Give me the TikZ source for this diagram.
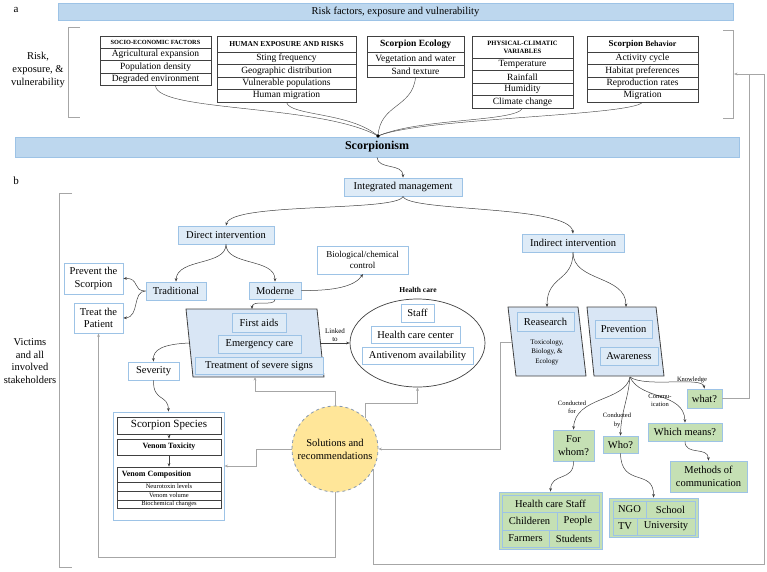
\documentclass[tikz,border=0pt]{standalone}
\usepackage{fontspec}
\setmainfont{Liberation Serif}
\usetikzlibrary{arrows.meta,shapes.geometric}
\definecolor{barblue}{HTML}{BDD7EE}
\definecolor{lblue}{HTML}{DEEBF7}
\definecolor{bblue}{HTML}{9DC3E6}
\definecolor{pblue}{HTML}{D9E6F5}
\definecolor{lgreen}{HTML}{C5E0B4}
\definecolor{yel}{HTML}{FFE699}
\definecolor{dashc}{HTML}{8497B0}
\definecolor{loopc}{HTML}{A6A6A6}
\definecolor{tabc}{HTML}{404040}
\newcommand\fz[2]{\fontsize{#1}{#2}\selectfont}
\begin{document}
\begin{tikzpicture}[x=1pt,y=-1pt,
  bx/.style={draw=bblue, line width=0.8pt, inner sep=0pt, align=center, font=\fz{10.5}{12.5}},
  lb/.style={bx, fill=lblue},
  gb/.style={bx, fill=lgreen},
  wb/.style={bx, fill=white},
  cell/.style={draw=tabc, fill=white, line width=0.7pt, inner sep=0pt, align=center, font=\fz{9.5}{11}, minimum width=#1},
  hd/.style={font=\bfseries\fz{#1}{#1*1.2}},
  arr/.style={-{Stealth[length=3.5pt,width=2.8pt]}, draw=black!75, line width=0.5pt},
  gl/.style={draw=loopc, line width=0.9pt},
  gla/.style={gl, -{Stealth[length=3.5pt,width=2.8pt]}},
  sl/.style={font=\fz{7}{8.5}, align=center, inner sep=0pt},
]
\useasboundingbox (0,0) rectangle (767,571);
\fill[white] (0,0) rectangle (767,571);

% labels
\node[font=\fz{11}{13}] (la) at (16,10) {a};
\node[font=\fz{11}{13}] (lbb) at (16,181) {b};
\node[align=center, font=\fz{10.5}{12.6}] (rev) at (38,70) {Risk,\\exposure, \&\\vulnerability};
\node[align=center, font=\fz{10.5}{12.7}] (vic) at (30,361) {Victims\\and all\\involved\\stakeholders};

% brackets
\draw[gl, line width=0.8pt] (80,27) -- (68,27) -- (68,117) -- (80,117);
\draw[gl, line width=0.8pt] (723,30) -- (733,30) -- (733,118) -- (723,118);
\draw[gl, line width=0.8pt] (72,193) -- (59,193) -- (59,567) -- (72,567);

% top bar
\node[draw=bblue, fill=barblue, line width=0.8pt, minimum width=675, minimum height=17, inner sep=0pt, font=\fz{10.5}{12}] (rbar) at (395.5,11.5) {Risk factors, exposure and vulnerability};

% Table 1
\node[cell=111, minimum height=12, font=\bfseries\fz{6.3}{7}] (t1h) at (155.5,42) {SOCIO-ECONOMIC FACTORS};
\node[cell=111, minimum height=12.5] (t1a) at (155.5,54.25) {Agricultural expansion};
\node[cell=111, minimum height=12.5] (t1b) at (155.5,66.75) {Population density};
\node[cell=111, minimum height=12.5] (t1c) at (155.5,79.25) {Degraded environment};
% Table 2
\node[cell=139, minimum height=16, font=\bfseries\fz{7.5}{8.5}] (t2h) at (286.5,44) {HUMAN EXPOSURE AND RISKS};
\node[cell=139, minimum height=12.5] (t2a) at (286.5,58.25) {Sting frequency};
\node[cell=139, minimum height=12.5] (t2b) at (286.5,70.75) {Geographic distribution};
\node[cell=139, minimum height=12.5] (t2c) at (286.5,83.25) {Vulnerable populations};
\node[cell=139, minimum height=12.5] (t2d) at (286.5,95.75) {Human migration};
% Table 3
\node[cell=97, minimum height=16.5, font=\bfseries\fz{9.5}{11}] (t3h) at (415.5,44.25) {Scorpion Ecology};
\node[cell=97, minimum height=12.5] (t3a) at (415.5,58.75) {Vegetation and water};
\node[cell=97, minimum height=12.5] (t3b) at (415.5,71.25) {Sand texture};
% Table 4
\node[cell=101, minimum height=22, font=\bfseries\fz{6.6}{8}] (t4h) at (522.5,47) {PHYSICAL-CLIMATIC\\VARIABLES};
\node[cell=101, minimum height=12.5] (t4a) at (522.5,64.25) {Temperature};
\node[cell=101, minimum height=12.5] (t4b) at (522.5,76.75) {Rainfall};
\node[cell=101, minimum height=12.5] (t4c) at (522.5,89.25) {Humidity};
\node[cell=101, minimum height=12.5] (t4d) at (522.5,101.75) {Climate change};
% Table 5
\node[cell=111, minimum height=16, font=\bfseries\fz{9}{10}] (t5h) at (642.5,44) {Scorpion {\fz{8}{10}Behavior}};
\node[cell=111, minimum height=12.5] (t5a) at (642.5,58.25) {Activity cycle};
\node[cell=111, minimum height=12.5] (t5b) at (642.5,70.75) {Habitat preferences};
\node[cell=111, minimum height=12.5] (t5c) at (642.5,83.25) {Reproduction rates};
\node[cell=111, minimum height=12.5] (t5d) at (642.5,95.75) {Migration};

% Scorpionism bar
\node[draw=bblue, fill=barblue, line width=0.8pt, minimum width=724, minimum height=20, inner sep=0pt, font=\bfseries\fz{12}{14}] (scp) at (377,147) {Scorpionism};
\coordinate (dot) at (378,136);

\draw[draw=black!70, line width=0.45pt] (t1c.south) .. controls (158,112) and (320,104) .. (dot);
\draw[draw=black!70, line width=0.45pt] (t2d.south) .. controls (290,116) and (350,112) .. (dot);
\draw[draw=black!70, line width=0.45pt] (t3b.south) .. controls (412,108) and (380,104) .. (dot);
\draw[draw=black!70, line width=0.45pt] (t4d.south) .. controls (515,122) and (420,118) .. (dot);
\draw[draw=black!70, line width=0.45pt] (t5d.south) .. controls (630,116) and (420,118) .. (dot);
\fill (dot) circle (1.8);

% section b
\node[lb, minimum width=118, minimum height=18] (im) at (403,187) {Integrated management};
\draw[arr] (scp.south) .. controls (378,170) and (403,163) .. (im.north);

\node[lb, minimum width=96, minimum height=18] (di) at (226,235) {Direct intervention};
\node[lb, minimum width=102, minimum height=18] (ii) at (573,243) {Indirect intervention};
\draw[arr] (im.south) .. controls (398,212) and (232,202) .. (di.north);
\draw[arr] (im.south) .. controls (408,212) and (570,205) .. (ii.north);

\node[lb, minimum width=60, minimum height=18] (tr) at (176,291) {Traditional};
\node[lb, minimum width=52, minimum height=17] (mo) at (275,290.5) {Moderne};
\draw[arr] (di.south) .. controls (226,266) and (177,258) .. (tr.north);
\draw[arr] (di.south) .. controls (226,266) and (275,258) .. (mo.north);

\node[wb, minimum width=59, minimum height=31] (ps) at (93.5,278.5) {Prevent the\\Scorpion};
\node[wb, minimum width=49, minimum height=30] (tp) at (98.5,318) {Treat the\\Patient};
\draw[arr] (tr.west) .. controls (132,291) and (140,278) .. (ps.east);
\draw[arr] (tr.west) .. controls (132,291) and (140,317) .. (tp.east);

\node[wb, minimum width=91, minimum height=28, font=\fz{9}{11}] (bio) at (362.5,260) {Biological/chemical\\control};
\draw[arr] (mo.east) .. controls (335,291) and (355,286) .. (363,274);

% parallelogram first aid
\draw[draw=tabc, fill=pblue, line width=0.8pt] (186,309) -- (317,309) -- (324,377) -- (193,377) -- cycle;
\coordinate (pan) at (252,309);
\coordinate (pae) at (321,343);
\coordinate (paw) at (190,343);
\coordinate (pas) at (255,377);
\node[lb, minimum width=54, minimum height=19] (fa) at (259,322.5) {First aids};
\node[lb, minimum width=83, minimum height=18] (ec) at (259.5,344) {Emergency care};
\node[lb, minimum width=128, minimum height=17] (ts) at (259,365.5) {Treatment of severe signs};
\draw[arr] (mo.south) .. controls (275,307) and (252,299) .. (pan);

% health care
\node[draw=tabc, line width=0.7pt, ellipse, minimum width=135, minimum height=88, inner sep=0pt] (hc) at (417.5,343) {};
\node[font=\bfseries\fz{7.5}{9}] (hcl) at (418,290) {Health care};
\node[wb, minimum width=33, minimum height=18] (st) at (417.5,313) {Staff};
\node[wb, minimum width=89, minimum height=17] (hcc) at (415.5,334.5) {Health care center};
\node[wb, minimum width=111, minimum height=17] (av) at (417.5,355.5) {Antivenom availability};
\draw[arr] (pae) -- (hc.west);
\node[sl] (lk) at (335,335) {Linked\\to};

% severity
\node[wb, minimum width=51, minimum height=18] (sev) at (153.5,371) {Severity};
\draw[arr] (paw) .. controls (162,344) and (153,350) .. (sev.north);

% species frame
\node[draw=bblue, fill=white, line width=0.9pt, minimum width=111, minimum height=108, inner sep=0pt] (spf) at (168.5,466) {};
\draw[arr] (sev.south) .. controls (153,402) and (168,394) .. (spf.north);
\node[cell=104, minimum height=17, font=\fz{11}{12}] (sp) at (169,425.5) {Scorpion Species};
\node[cell=104, minimum height=16, font=\bfseries\fz{8}{9}] (vt) at (169,447) {Venom Toxicity};
\node[cell=104, minimum height=15] (vc) at (169,474.5) {};
\node[anchor=west, inner sep=0pt, font=\bfseries\fz{8}{9}] (vct) at ([xshift=5pt]vc.west) {Venom Composition};
\node[cell=104, minimum height=9, font=\fz{6.5}{7}] (nl) at (169,486.5) {Neurotoxin levels};
\node[cell=104, minimum height=9, font=\fz{6.5}{7}] (vv) at (169,495.5) {Venom volume};
\node[cell=104, minimum height=8.5, font=\fz{6.5}{7}] (bc) at (169,504.25) {Biochemical changes};
\draw[arr] (sp.south) -- (vt.north);
\draw[arr] (vt.south) -- (vc.north);

% solutions
\node[circle, draw=dashc, dashed, line width=0.8pt, fill=yel, minimum size=86, inner sep=0pt, align=center, font=\fz{10.5}{13}] (sol) at (335,449) {Solutions and\\recommendations};

% research & prevention
\draw[draw=tabc, fill=pblue, line width=0.8pt] (508,307) -- (578,307) -- (586,376) -- (516,376) -- cycle;
\draw[draw=tabc, fill=pblue, line width=0.8pt] (587,307) -- (656,307) -- (664,376) -- (594,376) -- cycle;
\coordinate (rsn) at (547,307);
\coordinate (rsw) at (512,342);
\coordinate (pvn) at (626,307);
\coordinate (pvs) at (630,377);
\node[lb, minimum width=57, minimum height=19] (rs) at (545.5,321.5) {Reasearch};
\node[sl, font=\fz{7}{9.5}] (tbe) at (547,352) {Toxicology,\\Biology, \&\\Ecology};
\node[lb, minimum width=57, minimum height=18] (pv) at (623.5,329) {Prevention};
\node[lb, minimum width=58, minimum height=18] (aw) at (629,356) {Awareness};
\draw[arr] (ii.south) .. controls (573,282) and (547,275) .. (rsn);
\draw[arr] (ii.south) .. controls (573,282) and (626,275) .. (pvn);

% questions
\node[gb, minimum width=35, minimum height=19] (what) at (704.5,398.5) {what?};
\node[gb, minimum width=74, minimum height=18] (wm) at (685,432) {Which means?};
\node[gb, minimum width=35, minimum height=17] (who) at (620.5,444.5) {Who?};
\node[gb, minimum width=41, minimum height=31] (fw) at (573.5,445.5) {For\\whom?};
\node[gb, minimum width=77, minimum height=31] (mc) at (708.5,476.5) {Methods of\\communication};
\draw[arr] (pvs) .. controls (645,388) and (702,376) .. (what.north);
\draw[arr] (pvs) .. controls (640,400) and (684,392) .. (wm.north);
\draw[arr] (pvs) .. controls (628,400) and (621,412) .. (who.north);
\draw[arr] (pvs) .. controls (625,402) and (575,396) .. (fw.north);
\draw[arr] (wm.south) .. controls (685,456) and (708,446) .. (mc.north);
\node[sl, font=\fz{6.5}{8}] (kn) at (692,380) {Knowledge};
\node[sl, font=\fz{6.5}{8}] (cm) at (660,400.5) {Commu-\\ication};
\node[sl, font=\fz{6.5}{8.5}] (cb) at (617,420.5) {Conducted\\by};
\node[sl, font=\fz{6.5}{8.5}] (cf) at (572,407.5) {Conducted\\for};

% groups
\node[draw=bblue, fill=lgreen, line width=0.9pt, minimum width=103, minimum height=57, inner sep=0pt] (sg) at (550.5,520.5) {};
\node[gb, minimum width=97, minimum height=17] (hcs) at (550.5,503.5) {Health care Staff};
\node[gb, minimum width=55, minimum height=18] (chi) at (529.5,521) {Childeren};
\node[gb, minimum width=42, minimum height=18] (peo) at (578,521) {People};
\node[gb, minimum width=47, minimum height=17] (far) at (525.5,538.5) {Farmers};
\node[gb, minimum width=50, minimum height=17] (stu) at (574,538.5) {Students};
\draw[arr] (fw.south) .. controls (574,482) and (551,472) .. (sg.north);

\node[draw=bblue, fill=lgreen, line width=0.9pt, minimum width=89, minimum height=39, inner sep=0pt] (ng) at (653.5,517.5) {};
\node[gb, minimum width=33, minimum height=17] (ngo) at (629.5,509.5) {NGO};
\node[gb, minimum width=49, minimum height=17] (sch) at (670.5,509.5) {School};
\node[gb, minimum width=24, minimum height=17] (tv) at (625,526.5) {TV};
\node[gb, minimum width=58, minimum height=17] (uni) at (666,526.5) {University};
\draw[arr] (who.south) .. controls (621,488) and (654,468) .. (ng.north);

% gray loops
\coordinate (rbk) at (734,74);
\coordinate (rbx) at (764,74);
\coordinate (rbj) at (749,74);
\draw[gla] (sol.north) -- ++(0,-14) -| (pas);
\draw[gla] (sol.south) -- ++(0,65) -| (tp.south);
\draw[gla] (sol.west) -- ++(-35,0) |- (spf.east);
\draw[gla] (sol.46) |- (hc.south |- 0,403) -- (hc.south);
\draw[gla] (rsw) -- ++(-12,0) |- (sol.east);
\draw[gl] (sol.-28) -- ++(0,95) -| (rbx);
\draw[gla] (rbx) -- (rbk);
\draw[gl] (what.east) -| (rbj);
\end{tikzpicture}
\end{document}
